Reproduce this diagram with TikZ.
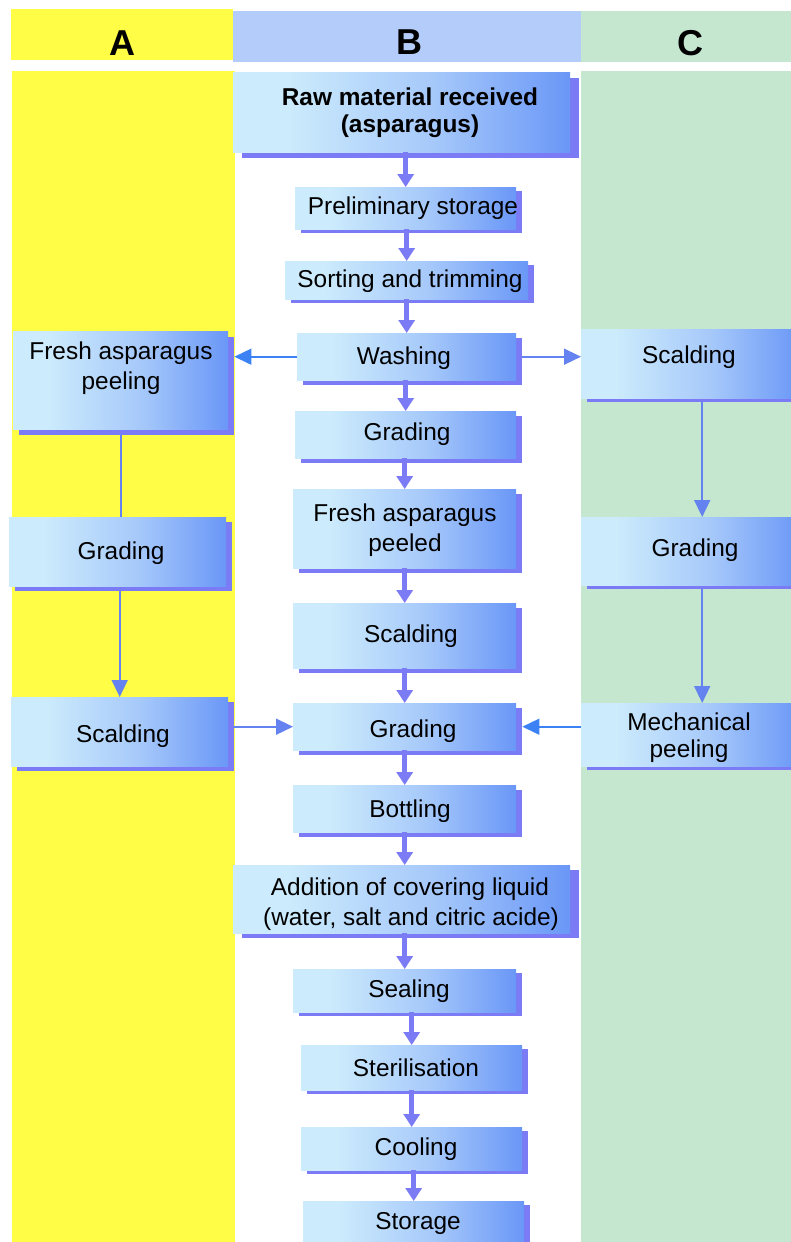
\documentclass[tikz,border=0pt]{standalone}
\usepackage{fontspec}
\setmainfont{Liberation Sans}
\usetikzlibrary{arrows.meta}
\definecolor{ayel}{RGB}{255,253,70}
\definecolor{bhead}{RGB}{180,204,250}
\definecolor{cgreen}{RGB}{197,230,207}
\definecolor{shad}{RGB}{123,123,245}
\definecolor{bla}{RGB}{204,235,252}
\definecolor{blb}{RGB}{165,200,250}
\definecolor{blc}{RGB}{106,151,247}
\definecolor{thinc}{RGB}{100,130,240}
\definecolor{thinb}{RGB}{60,130,245}
\pgfdeclarehorizontalshading{boxshade}{100bp}{color(0bp)=(bla); color(25bp)=(bla); color(33bp)=(bla); color(55bp)=(blb); color(75bp)=(blc); color(100bp)=(blc)}
\tikzset{
  boxn/.style={rectangle, shading=boxshade, draw=none, inner sep=0pt, anchor=north west},
  shadn/.style={rectangle, fill=shad, draw=none, inner sep=0pt, anchor=north west},
  lbl/.style={font=\fontsize{24.4}{29}\selectfont, inner sep=0pt, anchor=base},
  blbl/.style={lbl, font=\fontsize{24.4}{29}\selectfont\bfseries},
  hlbl/.style={font=\fontsize{36}{40}\selectfont\bfseries, inner sep=0pt, anchor=base},
  carrow/.style={draw=shad, line width=5pt, -{Triangle[width=16pt,length=13pt]}},
  sarrow/.style={draw=thinc, line width=1.6pt, -{Triangle[width=16pt,length=17pt]}},
  sline/.style={draw=thinc, line width=1.6pt},
}
\newcommand\flowbox[7]{%
  \node[shadn, minimum width={#4pt-#2pt}, minimum height={#5pt-#3pt}] (#1-s) at (#2+#6,#3+#7) {};
  \node[boxn, minimum width={#4pt-#2pt}, minimum height={#5pt-#3pt}] (#1) at (#2,#3) {};
}
\begin{document}
\begin{tikzpicture}[x=1pt,y=-1pt]
\useasboundingbox (0,0) rectangle (791,1242);
\clip (0,0) rectangle (791,1242);
% columns
\fill[ayel] (11,9) rectangle (233,60);
\fill[bhead] (233,11) rectangle (581,62);
\fill[cgreen] (581,11) rectangle (791,62);
\fill[ayel] (12,71) rectangle (235,1242);
\fill[cgreen] (581,71) rectangle (791,1242);
\node[hlbl] (hA) at (122,55) {A};
\node[hlbl] (hB) at (409,54) {B};
\node[hlbl] (hC) at (690,55) {C};
% centre boxes
\flowbox{raw}{233}{72}{570}{152}{9}{6}
\flowbox{pre}{295}{187}{516}{229}{6}{4}
\flowbox{sort}{285}{261}{528}{299}{6}{4}
\flowbox{wash}{297}{333}{516}{380}{6}{5}
\flowbox{grda}{295}{411}{516}{458}{6}{5}
\flowbox{fpd}{293}{489}{516}{568}{6}{5}
\flowbox{scl}{293}{603}{516}{668}{6}{5}
\flowbox{grdb}{293}{703}{516}{750}{6}{5}
\flowbox{bot}{293}{785}{516}{832}{6}{5}
\flowbox{add}{233}{865}{570}{933}{9}{5}
\flowbox{seal}{293}{969}{516}{1012}{6}{4}
\flowbox{ster}{301}{1045}{522}{1090}{6}{4}
\flowbox{cool}{301}{1127}{522}{1170}{6}{4}
\flowbox{stor}{303}{1201}{524}{1250}{6}{4}
% left boxes
\flowbox{fap}{13}{331}{228}{429}{6}{6}
\flowbox{lgrd}{9}{517}{226}{586}{6}{5}
\flowbox{lscl}{11}{697}{228}{766}{6}{5}
% right boxes
\flowbox{rscl}{581}{329}{800}{398}{6}{4}
\flowbox{rgrd}{581}{517}{800}{585}{6}{4}
\flowbox{mech}{581}{703}{800}{766}{6}{4}
% labels
\node[blbl] (raw-t1) at (410,105) {Raw material received};
\node[blbl] (raw-t2) at (410,132) {(asparagus)};
\node[lbl] (pre-t) at (413,214) {Preliminary storage};
\node[lbl] (sort-t) at (410,287.5) {Sorting and trimming};
\node[lbl] (wash-t) at (404,364.5) {Washing};
\node[lbl] (grda-t) at (407,440.5) {Grading};
\node[lbl] (fpd-t1) at (405,521.5) {Fresh asparagus};
\node[lbl] (fpd-t2) at (405,551.5) {peeled};
\node[lbl] (scl-t) at (411,642.5) {Scalding};
\node[lbl] (grdb-t) at (413,737.5) {Grading};
\node[lbl] (bot-t) at (410,817.5) {Bottling};
\node[lbl] (add-t1) at (410,895.5) {Addition of covering liquid};
\node[lbl] (add-t2) at (411,925.5) {(water, salt and citric acide)};
\node[lbl] (seal-t) at (409,997.5) {Sealing};
\node[lbl] (ster-t) at (416,1076.5) {Sterilisation};
\node[lbl] (cool-t) at (416,1155.5) {Cooling};
\node[lbl] (stor-t) at (418,1229.5) {Storage};
\node[lbl] (fap-t1) at (121,359.5) {Fresh asparagus};
\node[lbl] (fap-t2) at (121,389.5) {peeling};
\node[lbl] (lgrd-t) at (121,559.5) {Grading};
\node[lbl] (lscl-t) at (123,742.5) {Scalding};
\node[lbl] (rscl-t) at (689,363.5) {Scalding};
\node[lbl] (rgrd-t) at (695,556.5) {Grading};
\node[lbl] (mech-t1) at (689,730.5) {Mechanical};
\node[lbl] (mech-t2) at (689,757.5) {peeling};
% centre arrows
\draw[carrow] (raw.south -| pre.north) -- (pre.north);
\draw[carrow] (pre.south -| sort.north) -- (sort.north);
\draw[carrow] (sort.south -| wash.north) -- (wash.north);
\draw[carrow] (wash.south -| grda.north) -- (grda.north);
\draw[carrow] (grda.south -| fpd.north) -- (fpd.north);
\draw[carrow] (fpd.south -| scl.north) -- (scl.north);
\draw[carrow] (scl.south -| grdb.north) -- (grdb.north);
\draw[carrow] (grdb.south -| bot.north) -- (bot.north);
\draw[carrow] (bot.south) -- (bot.south |- add.north);
\draw[carrow] (add.south -| seal.north) -- (seal.north);
\draw[carrow] (seal.south -| ster.north) -- (ster.north);
\draw[carrow] (ster.south -| cool.north) -- (cool.north);
\draw[carrow] (cool.south -| stor.north) -- (stor.north);
% side arrows
\draw[sarrow, draw=thinb] (wash.west) -- (wash.west -| fap-s.east);
\draw[sarrow] (wash-s.east |- wash.east) -- (wash.east -| rscl.west);
\draw[sline] (fap-s.south -| fap.south) -- (fap.south |- lgrd.north);
\draw[sarrow] (lgrd-s.south -| lscl.north) -- (lscl.north);
\draw[sarrow] (lscl-s.east |- grdb.west) -- (grdb.west);
\draw[sarrow] ([xshift=11.5pt]rscl-s.south -| rscl.south) -- ([xshift=11.5pt]rgrd.north);
\draw[sarrow] ([xshift=11.5pt]rgrd-s.south -| rgrd.south) -- ([xshift=11.5pt]mech.north);
\draw[sarrow, draw=thinb] (mech.west |- grdb.east) -- (grdb.east -| grdb-s.east);
\end{tikzpicture}
\end{document}
